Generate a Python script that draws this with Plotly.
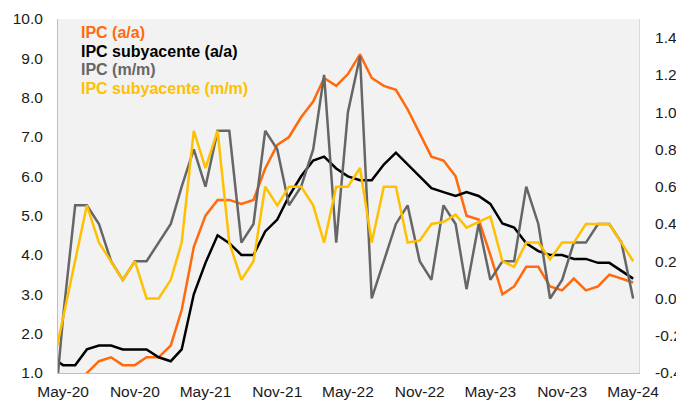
import pandas as pd
import plotly.graph_objects as go

# Monthly data, Apr-20 .. May-24 (Apr-20 lies just outside the visible axis range)
months = pd.date_range("2020-04-01", periods=50, freq="MS")

ipc_aa = [0.3, 0.1, 0.6, 1.0, 1.3, 1.4, 1.2, 1.2, 1.4, 1.4, 1.7, 2.6, 4.2, 5.0, 5.4, 5.4,
          5.3, 5.4, 6.2, 6.8, 7.0, 7.5, 7.9, 8.5, 8.3, 8.6, 9.1, 8.5, 8.3, 8.2, 7.7, 7.1,
          6.5, 6.4, 6.0, 5.0, 4.9, 4.0, 3.0, 3.2, 3.7, 3.7, 3.2, 3.1, 3.4, 3.1, 3.2, 3.5,
          3.4, 3.3]
sub_aa = [1.4, 1.2, 1.2, 1.6, 1.7, 1.7, 1.6, 1.6, 1.6, 1.4, 1.3, 1.6, 3.0, 3.8, 4.5, 4.3,
          4.0, 4.0, 4.6, 4.9, 5.5, 6.0, 6.4, 6.5, 6.2, 6.0, 5.9, 5.9, 6.3, 6.6, 6.3, 6.0,
          5.7, 5.6, 5.5, 5.6, 5.5, 5.3, 4.8, 4.7, 4.3, 4.1, 4.0, 4.0, 3.9, 3.9, 3.8, 3.8,
          3.6, 3.4]
ipc_mm = [-0.8, -0.1, 0.5, 0.5, 0.4, 0.2, 0.1, 0.2, 0.2, 0.3, 0.4, 0.6, 0.8, 0.6, 0.9, 0.9,
          0.3, 0.4, 0.9, 0.8, 0.5, 0.6, 0.8, 1.2, 0.3, 1.0, 1.3, 0.0, 0.2, 0.4, 0.5, 0.2,
          0.1, 0.5, 0.4, 0.05, 0.4, 0.1, 0.2, 0.2, 0.6, 0.4, 0.0, 0.1, 0.3, 0.3, 0.4, 0.4,
          0.3, 0.0]
sub_mm = [-0.4, -0.1, 0.2, 0.5, 0.3, 0.2, 0.1, 0.2, 0.0, 0.0, 0.1, 0.3, 0.9, 0.7, 0.9, 0.3,
          0.1, 0.2, 0.6, 0.5, 0.6, 0.6, 0.5, 0.3, 0.6, 0.6, 0.7, 0.3, 0.6, 0.6, 0.3, 0.31,
          0.4, 0.41, 0.45, 0.38, 0.41, 0.44, 0.2, 0.17, 0.3, 0.3, 0.21, 0.3, 0.3, 0.4, 0.4, 0.4,
          0.3, 0.2]

tick_dates = ["2020-05-01", "2020-11-01", "2021-05-01", "2021-11-01", "2022-05-01",
              "2022-11-01", "2023-05-01", "2023-11-01", "2024-05-01"]
tick_labels = ["May-20", "Nov-20", "May-21", "Nov-21", "May-22", "Nov-22", "May-23",
               "Nov-23", "May-24"]
left_ticks = [1.0, 2.0, 3.0, 4.0, 5.0, 6.0, 7.0, 8.0, 9.0, 10.0]
left_labels = ["1.0", "2.0", "3.0", "4.0", "5.0", "6.0", "7.0", "8.0", "9.0", "10.0"]
right_ticks = [-0.4, -0.2, 0.0, 0.2, 0.4, 0.6, 0.8, 1.0, 1.2, 1.4]
right_labels = ["-0.4", "-0.2", "0.0", "0.2", "0.4", "0.6", "0.8", "1.0", "1.2", "1.4"]

series_names = ["IPC (a/a)", "IPC subyacente (a/a)", "IPC (m/m)", "IPC subyacente (m/m)"]
colors = ["#FF6A0E", "#000000", "#666666", "#FFC000"]

W, H = 676, 400
L, R, T, B = 58, 37, 19, 27

fig = go.Figure()
fig.add_trace(go.Scatter(x=months, y=ipc_aa, mode="lines", name=series_names[0],
                         line=dict(color=colors[0], width=2.5), yaxis="y"))
fig.add_trace(go.Scatter(x=months, y=sub_aa, mode="lines", name=series_names[1],
                         line=dict(color=colors[1], width=2.5), yaxis="y"))
fig.add_trace(go.Scatter(x=months, y=ipc_mm, mode="lines", name=series_names[2],
                         line=dict(color=colors[2], width=2.5), yaxis="y2"))
fig.add_trace(go.Scatter(x=months, y=sub_mm, mode="lines", name=series_names[3],
                         line=dict(color=colors[3], width=2.5), yaxis="y2"))

tick_font = dict(family="Liberation Sans, Arial, sans-serif", size=15.5, color="#1a1a1a")

fig.update_layout(
    width=W, height=H,
    margin=dict(l=L, r=R, t=T, b=B, autoexpand=False),
    paper_bgcolor="white",
    plot_bgcolor="#F2F2F2",
    showlegend=False,
    xaxis=dict(range=["2020-04-18", "2024-05-16"], tickvals=tick_dates, ticktext=tick_labels,
               showgrid=False, zeroline=False, showline=True, linecolor="#BFBFBF", linewidth=1,
               ticks="", tickfont=tick_font, ticklabelstandoff=4, automargin=False),
    yaxis=dict(range=[1.0, 10.0], tickvals=left_ticks, ticktext=left_labels,
               showgrid=False, zeroline=False, showline=True, linecolor="#BFBFBF", linewidth=1,
               ticks="", tickfont=tick_font, ticklabelstandoff=11, automargin=False),
    yaxis2=dict(range=[-0.4, 1.5], tickvals=right_ticks, ticktext=right_labels, overlaying="y",
                side="right", showgrid=False, zeroline=False, showline=True,
                linecolor="#D9D9D9", linewidth=1, ticks="", tickfont=tick_font,
                ticklabelstandoff=12, automargin=False),
)

# Legend as coloured text at top-left of the plot area
legend_y_px = [33, 52, 70, 88]
plot_w = W - L - R
plot_h = H - T - B
for name, col, ypx in zip(series_names, colors, legend_y_px):
    fig.add_annotation(
        text=f"<b>{name}</b>", xref="paper", yref="paper",
        x=(80 - L) / plot_w, y=(H - B - ypx) / plot_h,
        xanchor="left", yanchor="middle", showarrow=False, borderpad=0,
        font=dict(family="Liberation Sans, Arial, sans-serif", size=16, color=col),
    )

fig.write_html(
    "out.html",
    config={"displayModeBar": False},
    post_script="document.body.style.margin='0';document.body.style.overflow='hidden';",
)
